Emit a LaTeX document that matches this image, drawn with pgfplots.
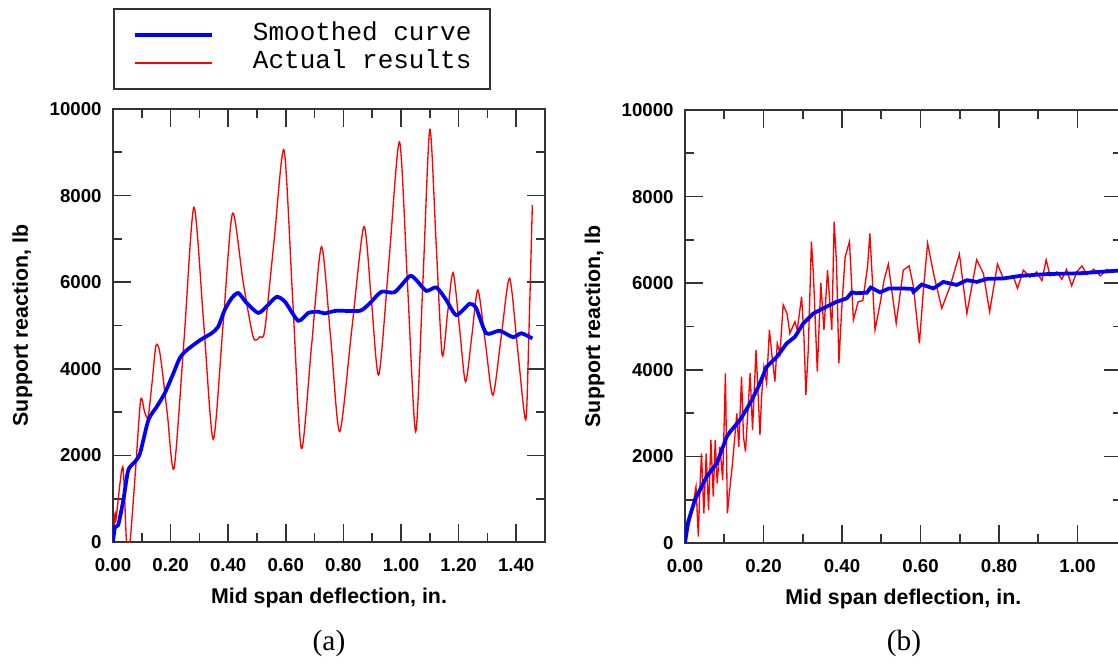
\documentclass[border=0pt]{standalone}
\usepackage{pgfplots}
\pgfplotsset{compat=1.18}
\usepackage{fontspec}
\setmainfont{Liberation Sans}
\newfontfamily\monofont{Liberation Mono}
\newfontfamily\seriffont{Liberation Serif}

\pgfplotsset{
  refstyle/.style={
    scale only axis,
    anchor=origin,
    height=324.75pt,
    ymin=0, ymax=10000,
    ytick={0,2000,4000,6000,8000,10000},
    scaled y ticks=false,
    scaled x ticks=false,
    minor y tick num=1,
    minor x tick num=1,
    tick align=inside,
    major tick length=13.5pt,
    minor tick length=6.75pt,
    every tick/.style={line width=1.3pt, black!80},
    axis line style={line width=1.5pt, black!80},
    /pgf/number format/assume math mode=true,
    tick label style={font=\fontsize{14}{16}\selectfont\bfseries},
    yticklabel style={/pgf/number format/1000 sep={}, xshift=-5pt},
    xticklabel style={/pgf/number format/.cd, fixed, fixed zerofill, precision=2, /tikz/.cd, yshift=-9pt},
    label style={font=\fontsize{16}{18}\selectfont\bfseries},
    xlabel={Mid span deflection, in.},
    ylabel={Support reaction, lb},
  }
}

\begin{document}
\begin{tikzpicture}
\useasboundingbox (0,0) rectangle (838.5pt,496.5pt);
\clip (0,0) rectangle (838.5pt,496.5pt);

% ---------- (a) ----------
\begin{axis}[refstyle,
  at={(84.75pt,90pt)},
  width=324pt,
  xmin=0, xmax=1.5,
  xtick={0,0.2,0.4,0.6,0.8,1.0,1.2,1.4},
  xlabel style={at={(axis description cs:0.5,-0.1409)}, anchor=base},
  ylabel style={at={(axis description cs:-0.1968,0.5)}, anchor=base},
  legend style={at={(0,1)}, anchor=south west, yshift=14.25pt,
    draw=black!80, line width=1.5pt,
    font=\monofont\fontsize{19.5}{22}\selectfont,
    inner xsep=14.25pt, inner ysep=10.5pt,
    row sep=3pt, column sep=29.25pt,
    nodes={inner sep=0pt, text height=13pt, text depth=5pt}},
  legend cell align=left,
  legend image code/.code={\draw[#1] (0pt,0pt) -- (57.75pt,0pt);},
]
\addlegendimage{blue, line width=3pt}
\addlegendentry{Smoothed curve}
\addlegendimage{red, line width=1.2pt}
\addlegendentry{Actual results}

\addplot[red, line width=1pt, smooth, tension=0.45, forget plot] coordinates {
(0,0) (0.007,660) (0.010,500) (0.034,1740) (0.047,0) (0.059,0)
(0.078,1640) (0.096,3280) (0.110,3000) (0.122,2890) (0.136,3700)
(0.149,4530) (0.163,4360) (0.188,3000) (0.212,1700) (0.247,4700)
(0.281,7730) (0.315,5050) (0.348,2370) (0.382,5000) (0.415,7590)
(0.452,6000) (0.487,4730) (0.510,4740) (0.527,4900) (0.560,7000)
(0.594,9050) (0.624,5600) (0.654,2160) (0.689,4500) (0.724,6820)
(0.756,4700) (0.787,2550) (0.829,4900) (0.871,7280) (0.897,5600)
(0.923,3860) (0.959,6550) (0.995,9240) (1.023,5900) (1.051,2550)
(1.076,6000) (1.100,9530) (1.122,6900) (1.143,4320) (1.162,5300)
(1.181,6220) (1.203,4960) (1.224,3700) (1.246,4760) (1.267,5820)
(1.293,4600) (1.319,3390) (1.348,4740) (1.377,6090) (1.405,4450)
(1.433,2820) (1.444,4800) (1.456,7780)
};
\addplot[blue, line width=2.8pt, smooth, tension=0.4, forget plot] coordinates {
(0,0) (0.007,350) (0.018,390) (0.036,970) (0.053,1660) (0.076,1850)
(0.094,2050) (0.123,2820) (0.152,3125) (0.180,3440) (0.210,3900)
(0.232,4250) (0.256,4430) (0.302,4660) (0.342,4820) (0.365,4970)
(0.388,5360) (0.412,5630) (0.435,5750) (0.464,5520) (0.504,5290)
(0.533,5440) (0.568,5660) (0.597,5550) (0.643,5110) (0.678,5290)
(0.712,5320) (0.735,5280) (0.776,5340) (0.857,5340) (0.891,5510)
(0.932,5780) (0.978,5770) (1.030,6140) (1.053,6050) (1.088,5800)
(1.123,5880) (1.157,5590) (1.192,5240) (1.238,5500) (1.261,5400)
(1.296,4820) (1.342,4880) (1.389,4730) (1.418,4820) (1.456,4700)
};
\end{axis}

% ---------- (b) ----------
\begin{axis}[refstyle,
  at={(513.75pt,89.25pt)},
  width=327.4pt,
  xmin=0, xmax=1.112,
  xtick={0,0.2,0.4,0.6,0.8,1.0},
  xlabel style={at={(axis description cs:0.5,-0.1409)}, anchor=base},
  ylabel style={at={(axis description cs:-0.1947,0.5)}, anchor=base},
]
\addplot[red, line width=1pt] coordinates {
(0,0) (0.013,531) (0.021,917) (0.028,1300) (0.034,146) (0.038,1300)
(0.042,2070) (0.048,685) (0.054,2070) (0.060,762) (0.066,2380)
(0.072,1070) (0.077,2380) (0.082,1380) (0.089,2220) (0.096,1450)
(0.103,3920) (0.108,685) (0.113,1150) (0.121,1840) (0.132,2990)
(0.137,2220) (0.144,3840) (0.149,2450) (0.154,2110) (0.166,3920)
(0.172,2610) (0.181,4460) (0.191,2490) (0.195,3380) (0.201,4070)
(0.208,3690) (0.215,4920) (0.221,4380) (0.229,3730) (0.235,4610)
(0.242,4380) (0.250,5500) (0.260,5300) (0.267,4840) (0.280,5110)
(0.286,4920) (0.297,5690) (0.303,4770) (0.308,3420) (0.314,4460)
(0.322,6960) (0.327,6230) (0.337,3960) (0.346,6000) (0.354,4920)
(0.363,6300) (0.374,4920) (0.380,7420) (0.386,6460) (0.392,4150)
(0.399,5380) (0.408,6610) (0.419,6960) (0.429,5150) (0.441,5570)
(0.453,5600) (0.465,6380) (0.471,7150) (0.484,4920) (0.497,5530)
(0.507,6070) (0.518,6440) (0.538,5070) (0.556,6300) (0.571,6400)
(0.582,5920) (0.597,4610) (0.608,5920) (0.618,6920) (0.633,6230)
(0.654,5420) (0.675,5920) (0.699,6670) (0.718,5300) (0.743,6540)
(0.760,6230) (0.776,5340) (0.796,6440) (0.811,6110) (0.837,6140)
(0.847,5880) (0.862,6300) (0.879,6140) (0.896,6260) (0.909,6060)
(0.920,6540) (0.930,6170) (0.947,6260) (0.960,6090) (0.972,6320)
(0.985,5940) (0.998,6260) (1.011,6400) (1.024,6200) (1.041,6320)
(1.058,6170) (1.075,6320) (1.092,6260) (1.103,6320) (1.112,6280)
};
\addplot[blue, line width=2.8pt] coordinates {
(0,0) (0.008,490) (0.025,990) (0.055,1530) (0.081,1840) (0.106,2450)
(0.115,2570) (0.140,2840) (0.166,3230) (0.187,3610) (0.208,4070)
(0.234,4300) (0.259,4610) (0.280,4760) (0.301,5070) (0.327,5300)
(0.352,5420) (0.386,5570) (0.412,5650) (0.425,5790) (0.437,5770)
(0.463,5780) (0.473,5900) (0.497,5790) (0.520,5880) (0.548,5880)
(0.578,5870) (0.582,5800) (0.603,5970) (0.633,5880) (0.658,6030)
(0.692,5960) (0.718,6070) (0.743,6030) (0.769,6100) (0.811,6110)
(0.854,6170) (0.921,6210) (1.006,6230) (1.103,6290) (1.112,6300)
};
\end{axis}

\node[font=\seriffont\fontsize{22}{24}\selectfont, anchor=base] at (246.75pt,9pt) {(a)};
\node[font=\seriffont\fontsize{22}{24}\selectfont, anchor=base] at (678pt,9pt) {(b)};
\end{tikzpicture}
\end{document}
